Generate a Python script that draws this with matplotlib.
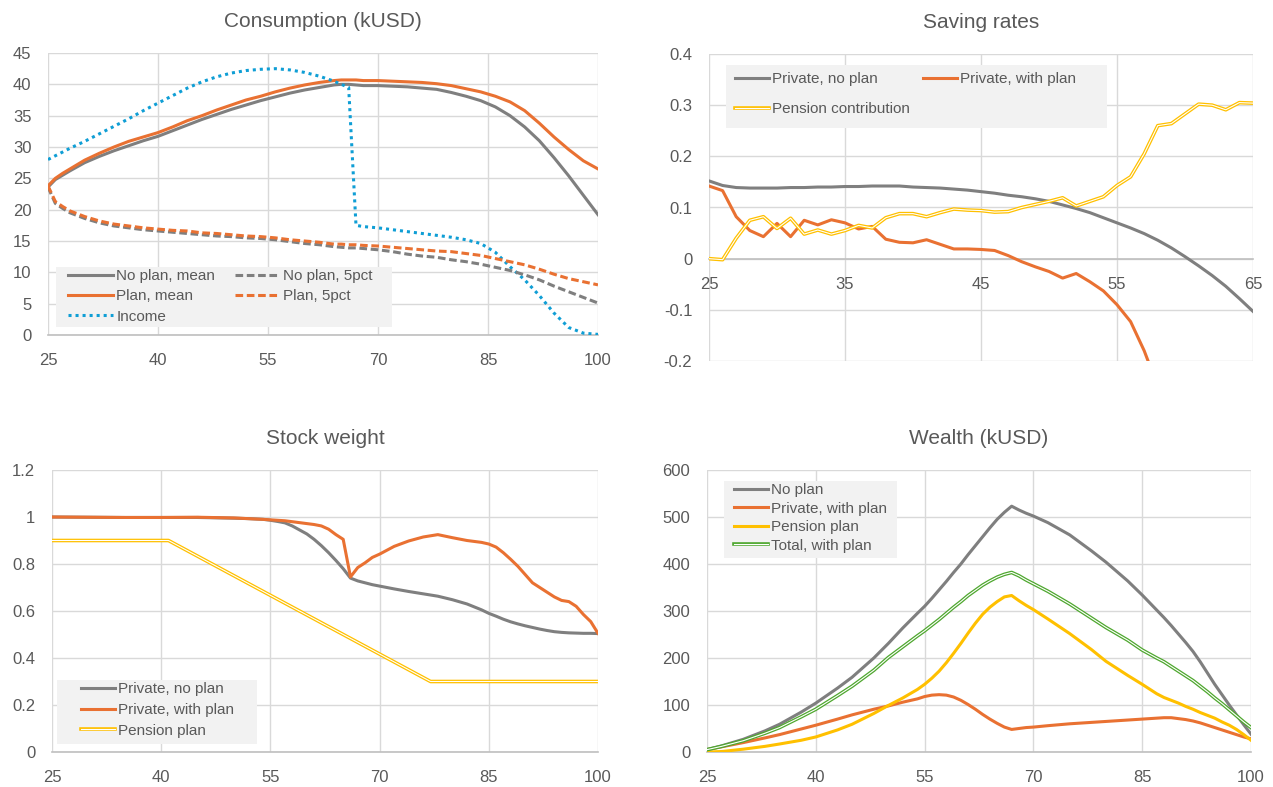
import matplotlib
matplotlib.use('Agg')
import matplotlib.pyplot as plt
from matplotlib.lines import Line2D
from matplotlib.patches import Rectangle
from matplotlib.ticker import FuncFormatter

# ---- data ----
cons_age = [25, 26, 27, 28, 30, 32, 34, 36, 38, 40, 42, 44, 46, 48, 50, 52, 54, 56, 58, 60, 62,
            64, 65, 66, 67, 68, 70, 72, 74, 76, 78, 80, 82, 84, 86, 88, 90, 92, 94, 96, 98, 100]
nop_mean = [23.6, 24.8, 25.5, 26.2, 27.5, 28.5, 29.4, 30.2, 31.0, 31.7, 32.6, 33.5, 34.4, 35.2, 36.0,
            36.7, 37.4, 38.0, 38.6, 39.1, 39.5, 39.9, 40.0, 40.0, 39.9, 39.8, 39.8, 39.7, 39.6, 39.4,
            39.2, 38.7, 38.1, 37.4, 36.4, 35.0, 33.2, 31.0, 28.3, 25.4, 22.3, 19.2]
plan_mean = [23.8, 25.0, 25.8, 26.5, 27.9, 29.0, 30.0, 30.9, 31.6, 32.3, 33.2, 34.2, 35.0, 35.9, 36.7,
             37.5, 38.1, 38.8, 39.4, 39.9, 40.3, 40.6, 40.7, 40.7, 40.7, 40.6, 40.6, 40.5, 40.4, 40.3,
             40.1, 39.8, 39.3, 38.8, 38.1, 37.2, 35.8, 33.8, 31.6, 29.6, 27.8, 26.5]
nop_5pct = [23.6, 21.0, 20.2, 19.5, 18.6, 17.9, 17.4, 17.1, 16.8, 16.6, 16.4, 16.2, 16.0, 15.8, 15.7,
            15.5, 15.4, 15.2, 14.9, 14.6, 14.4, 14.1, 14.0, 13.9, 13.9, 13.8, 13.6, 13.3, 12.9, 12.6,
            12.4, 12.0, 11.7, 11.3, 10.8, 10.3, 9.6, 8.8, 7.8, 6.9, 6.0, 5.1]
plan_5pct = [23.8, 21.3, 20.5, 19.8, 18.9, 18.2, 17.7, 17.4, 17.1, 16.9, 16.7, 16.6, 16.3, 16.2, 16.0,
             15.8, 15.7, 15.5, 15.2, 15.0, 14.8, 14.5, 14.5, 14.4, 14.4, 14.3, 14.2, 14.0, 13.8, 13.6,
             13.4, 13.3, 13.0, 12.7, 12.2, 11.7, 11.2, 10.5, 9.7, 9.0, 8.5, 8.0]
income = [28.0, 28.6, 29.2, 29.8, 30.9, 32.1, 33.3, 34.5, 35.8, 37.0, 38.2, 39.4, 40.4, 41.2, 41.8,
          42.2, 42.4, 42.5, 42.3, 41.9, 41.3, 40.5, 40.0, 39.5, 17.5, 17.3, 17.1, 16.8, 16.5, 16.2,
          15.9, 15.6, 15.2, 14.6, 13.2, 10.9, 8.8, 6.3, 3.5, 1.2, 0.3, 0.1]

sav_age = list(range(25, 66))
sav_noplan = [.152, .143, .139, .138, .138, .138, .139, .139, .140, .140, .141, .141, .142, .142, .142,
              .140, .139, .138, .136, .134, .131, .128, .124, .121, .117, .112, .105, .098, .090, .080,
              .070, .060, .049, .036, .021, .004, -.014, -.033, -.054, -.078, -.103]
sav_plan_age = list(range(25, 59))
sav_plan = [.142, .133, .082, .055, .043, .069, .043, .075, .066, .076, .070, .058, .063, .038, .032,
            .031, .037, .028, .019, .019, .018, .016, .006, -.006, -.016, -.025, -.038, -.029, -.045,
            -.063, -.090, -.123, -.180, -.250]
sav_pension = [.000, -.002, .040, .075, .082, .059, .079, .048, .056, .048, .055, .065, .060, .080, .088,
               .088, .082, .090, .097, .095, .094, .091, .092, .100, .106, .112, .119, .103, .112, .121,
               .143, .160, .205, .260, .264, .283, .302, .300, .291, .305, .304]

sw_age = [25, 30, 35, 40, 45, 50, 52, 54, 55, 56, 57, 58, 59, 60, 61, 62, 63, 64, 65, 66, 67, 68, 69,
          70, 72, 74, 76, 78, 80, 82, 84, 85, 86, 87, 88, 89, 90, 91, 92, 93, 94, 95, 96, 97, 98, 99, 100]
sw_noplan = [1.0, .999, .998, .998, .998, .995, .993, .990, .986, .981, .975, .962, .945, .928, .905,
             .878, .848, .815, .780, .740, .728, .720, .712, .706, .694, .683, .673, .663, .648, .630,
             .605, .590, .578, .565, .554, .545, .537, .530, .523, .517, .512, .509, .507, .506, .505,
             .505, .504]
sw_plan = [1.0, .999, .998, .998, .999, .996, .993, .990, .988, .986, .984, .980, .976, .972, .968,
           .962, .948, .925, .905, .745, .785, .805, .828, .842, .875, .898, .915, .925, .912, .900,
           .892, .885, .872, .848, .820, .790, .755, .720, .700, .680, .660, .645, .640, .620, .585,
           .555, .505]
sw_pen_age = [25, 41, 77, 100]
sw_pension = [0.9, 0.9, 0.3, 0.3]

w_age = [25, 27, 30, 33, 35, 38, 40, 43, 45, 48, 50, 52, 54, 55, 56, 57, 58, 59, 60, 61, 62, 63, 64,
         65, 66, 67, 68, 69, 70, 72, 75, 78, 80, 83, 85, 87, 88, 89, 90, 91, 92, 93, 94, 95, 96, 97,
         98, 99, 100]
w_noplan = [5, 13, 27, 45, 59, 85, 104, 136, 159, 200, 231, 264, 295, 310, 327, 345, 363, 382, 400,
            420, 439, 458, 477, 495, 510, 523, 515, 508, 502, 488, 462, 428, 404, 364, 334, 302, 286,
            269, 251, 233, 214, 192, 168, 144, 122, 100, 79, 58, 38]
w_private = [5, 11, 20, 30, 37, 49, 57, 70, 79, 91, 98, 106, 113, 118, 121, 122, 121, 117, 110, 101,
             91, 80, 70, 61, 53, 48, 50, 52, 53, 56, 60, 63, 65, 68, 70, 72, 73, 73, 71, 69, 66, 62,
             57, 52, 47, 42, 37, 32, 28]
w_pension = [0, 1, 6, 12, 17, 25, 32, 47, 59, 82, 99, 115, 133, 144, 157, 172, 190, 210, 231, 253,
             274, 293, 308, 320, 330, 333, 322, 312, 303, 283, 252, 218, 193, 163, 144, 124, 116,
             110, 104, 97, 91, 84, 78, 72, 64, 57, 48, 37, 25]
w_total = [5, 12, 24, 40, 52, 75, 91, 120, 140, 174, 201, 224, 247, 258, 270, 282, 295, 308, 320,
           333, 344, 355, 364, 372, 378, 382, 375, 366, 358, 342, 315, 285, 265, 238, 217, 200, 192,
           182, 172, 162, 152, 140, 128, 115, 103, 90, 77, 64, 52]

# ---- style ----
plt.rcParams['font.family'] = ['Liberation Sans', 'DejaVu Sans']
plt.rcParams['axes.unicode_minus'] = False
txt = '#595959'
grid_c = '#D9D9D9'
gray = '#7F7F7F'
orange = '#E97132'
blue = '#0F9ED5'
yellow = '#FFC000'
green = '#4EA72E'
lw = 2.2

fmt = FuncFormatter(lambda v, p: '{:g}'.format(round(v, 6)))

fig = plt.figure(figsize=(12.73, 7.87), dpi=100)
W, H = 1273, 787


def add_ax(x0, x1, y0, y1):
    return fig.add_axes([x0 / W, 1 - y1 / H, (x1 - x0) / W, (y1 - y0) / H])


def style(ax, xt, yt):
    ax.set_xticks(xt)
    ax.set_yticks(yt)
    ax.set_xlim(xt[0], xt[-1])
    ax.set_ylim(yt[0], yt[-1])
    ax.grid(True, color=grid_c, lw=1.0, zorder=0)
    ax.set_axisbelow(True)
    for s in ['top', 'right', 'left']:
        ax.spines[s].set_visible(False)
    ax.spines['bottom'].set_color('#BFBFBF')
    ax.spines['bottom'].set_linewidth(1.2)
    ax.tick_params(length=0, labelsize=12, labelcolor=txt)
    ax.tick_params(axis='x', pad=13)
    ax.tick_params(axis='y', pad=12)
    ax.yaxis.set_major_formatter(fmt)


def double_line(ax, x, y, c, inner='white'):
    ax.plot(x, y, color=c, lw=2.6, zorder=3)
    ax.plot(x, y, color=inner, lw=0.8, zorder=3)
    return (Line2D([], [], color=c, lw=2.6), Line2D([], [], color=inner, lw=0.8))


def legend(ax, handles, labels, box, anchor, **kw):
    # light grey box behind the legend, given in figure pixels
    x0, y0, x1, y1 = box
    ax.add_patch(Rectangle((x0 / W, 1 - y1 / H), (x1 - x0) / W, (y1 - y0) / H,
                           transform=fig.transFigure, facecolor='#F2F2F2',
                           edgecolor='none', zorder=4.5))
    lg = ax.legend(handles, labels, frameon=False, fontsize=11, labelcolor=txt,
                   handletextpad=0.2, borderpad=0, borderaxespad=0, loc='upper left',
                   bbox_to_anchor=(anchor[0] / W, 1 - anchor[1] / H),
                   bbox_transform=fig.transFigure, **kw)
    lg.set_zorder(5)
    return lg


# Consumption
ax = add_ax(48, 598, 53, 335)
style(ax, [25, 40, 55, 70, 85, 100], list(range(0, 50, 5)))
h1, = ax.plot(cons_age, nop_mean, color=gray, lw=lw, zorder=3)
h2, = ax.plot(cons_age, plan_mean, color=orange, lw=lw, zorder=3)
h3, = ax.plot(cons_age, income, color=blue, lw=lw, ls=(0, (1, 1.3)), zorder=3)
h4, = ax.plot(cons_age, nop_5pct, color=gray, lw=lw, ls=(0, (2.5, 1.2)), zorder=3)
h5, = ax.plot(cons_age, plan_5pct, color=orange, lw=lw, ls=(0, (2.5, 1.2)), zorder=3)
ax.set_title('Consumption (kUSD)', fontsize=15, color=txt, pad=19)
legend(ax, [h1, h2, h3, h4, h5],
       ['No plan, mean', 'Plan, mean', 'Income', 'No plan, 5pct', 'Plan, 5pct'],
       (56, 267, 392, 327), (68, 269),
       ncol=2, columnspacing=1.3, labelspacing=0.42, handlelength=2.95)

# Saving rates
ax = add_ax(709, 1253, 54, 361)
style(ax, [25, 35, 45, 55, 65], [-0.2, -0.1, 0, 0.1, 0.2, 0.3, 0.4])
ax.spines['bottom'].set_position(('data', 0))
h1, = ax.plot(sav_age, sav_noplan, color=gray, lw=lw, zorder=3)
h2, = ax.plot(sav_plan_age, sav_plan, color=orange, lw=lw, zorder=3, clip_on=True)
hp = double_line(ax, sav_age, sav_pension, yellow)
ax.set_title('Saving rates', fontsize=15, color=txt, pad=19)
legend(ax, [h1, hp, h2], ['Private, no plan', 'Pension contribution', 'Private, with plan'],
       (726, 65, 1107, 128), (735, 72),
       ncol=2, columnspacing=0.9, labelspacing=1.05, handlelength=2.2)

# Stock weight
ax = add_ax(52, 598, 470, 752)
style(ax, [25, 40, 55, 70, 85, 100], [0, 0.2, 0.4, 0.6, 0.8, 1.0, 1.2])
h1, = ax.plot(sw_age, sw_noplan, color=gray, lw=lw, zorder=3)
h2, = ax.plot(sw_age, sw_plan, color=orange, lw=lw, zorder=4)
hp = double_line(ax, sw_pen_age, sw_pension, yellow)
ax.set_title('Stock weight', fontsize=15, color=txt, pad=19)
legend(ax, [h1, h2, hp], ['Private, no plan', 'Private, with plan', 'Pension plan'],
       (57, 680, 257, 744), (81, 682),
       labelspacing=0.45, handlelength=2.2)

# Wealth
ax = add_ax(707, 1251, 470, 752)
style(ax, [25, 40, 55, 70, 85, 100], list(range(0, 700, 100)))
h1, = ax.plot(w_age, w_noplan, color=gray, lw=lw, zorder=3)
h2, = ax.plot(w_age, w_private, color=orange, lw=lw, zorder=3)
h3, = ax.plot(w_age, w_pension, color=yellow, lw=lw, zorder=3)
h4 = double_line(ax, w_age, w_total, green)
ax.set_title('Wealth (kUSD)', fontsize=15, color=txt, pad=19)
legend(ax, [h1, h2, h3, h4], ['No plan', 'Private, with plan', 'Pension plan', 'Total, with plan'],
       (724, 481, 897, 558), (734, 483),
       labelspacing=0.3, handlelength=2.2)

fig.savefig('out.png', dpi=100)
